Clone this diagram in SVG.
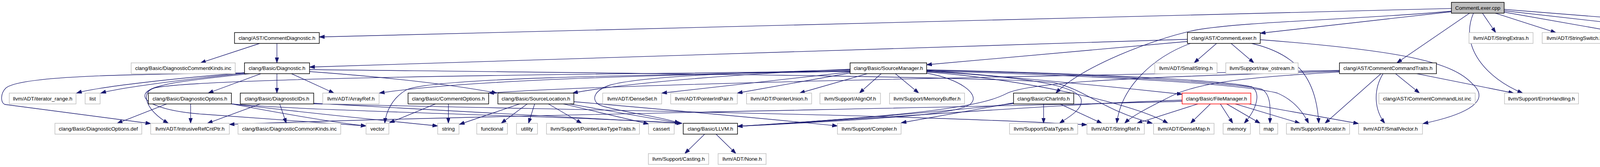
<svg xmlns="http://www.w3.org/2000/svg" width="4967" height="427" viewBox="0 0 4967 427">
<defs>
<style>
.e{fill:none;stroke:#191970;stroke-width:1.33;marker-end:url(#ah)}
.g{fill:#fff;stroke:#bfbfbf;stroke-width:1.5}
.k{fill:#fff;stroke:#000;stroke-width:1.5}
.r{fill:#fff;stroke:#ff0000;stroke-width:1.5}
.root{fill:#bfbfbf;stroke:#000;stroke-width:1.5}
text{font-family:"Liberation Sans",Arial,Helvetica,sans-serif;font-size:13.33px;text-anchor:middle;fill:#000}
</style>
<marker id="ah" markerUnits="userSpaceOnUse" markerWidth="14" markerHeight="10" refX="13.3" refY="4.65" orient="auto" viewBox="0 0 14 10">
<path d="M0,0 L13.3,4.65 L0,9.3 Z" fill="#191970" stroke="#191970" stroke-width="1"/>
</marker>
</defs>
<rect x="0" y="0" width="4967" height="427" fill="#fff"/>
<g id="edges">
<path class="e" d="M3715.6,21.7 L817.4,94.5"/>
<path class="e" d="M3715.6,28.5 C3480,50 3180,55 3060,77 C2950,100 2770,170 2703,238"/>
<path class="e" d="M3715.6,30 L3226.3,85"/>
<path class="e" d="M3762,33.7 L3576,160.7"/>
<path class="e" d="M3772,33.7 C3735,120 3805,200 3898,238"/>
<path class="e" d="M3795,33.7 L3829,83.3"/>
<path class="e" d="M3828,33.7 L3983,83.3"/>
<path class="e" d="M3850.6,31 L4148,83.3"/>
<path class="e" d="M3850.6,27.5 L4345,83.3"/>
<path class="e" d="M3850.6,24 L4601,83.3"/>
<path class="e" d="M708.9,111 L708.9,160.7"/>
<path class="e" d="M665,111 L513.5,160.7"/>
<path class="e" d="M3039.7,100.5 L792.4,171.5"/>
<path class="e" d="M3039.7,106 L2372.3,165.5"/>
<path class="e" d="M3114.5,111 L3057,160.7"/>
<path class="e" d="M3151.5,111 L3210,160.7"/>
<path class="e" d="M3047.6,111 C2955,145 2870,220 2859,315.3"/>
<path class="e" d="M3204,111 C3320,138 3370,200 3376,315.3"/>
<path class="e" d="M3226.3,101.5 C3600,130 3720,160 3770,215 C3825,265 3730,298 3643,316"/>
<path class="e" d="M3572.4,188.3 L3634,238"/>
<path class="e" d="M3626.5,188.3 L3875,238"/>
<path class="e" d="M3540.6,188.3 C3515,230 3518,280 3545,315.3"/>
<path class="e" d="M3535.5,188.3 L3392,315.3"/>
<path class="e" d="M3429,184 C3250,195 3080,205 3000,245 C2940,275 2900,295 2879,315.3"/>
<path class="e" d="M3429,182 C3000,196 2640,205 2575,240 C2520,268 2400,292 1888,323"/>
<path class="e" d="M3429,180 C2800,192 1600,212 1251,238"/>
<path class="e" d="M2372.3,180 C2600,198 2850,222 3026.3,241"/>
<path class="e" d="M2176.3,177 C1900,188 1600,212 1466,238"/>
<path class="e" d="M2176.3,181 C1700,192 1200,203 971,238"/>
<path class="e" d="M2176.3,184 L1694,238"/>
<path class="e" d="M2176.3,186.5 L1887.5,238"/>
<path class="e" d="M2220.5,188.3 L2047,238"/>
<path class="e" d="M2256,188.3 L2200,238"/>
<path class="e" d="M2292,188.3 L2352,238"/>
<path class="e" d="M2372.3,187 C2460,203 2505,240 2488,262 C2470,290 2300,303 1888,323"/>
<path class="e" d="M2176.3,178.5 C1900,185 1640,195 1560,218 C1510,235 1515,265 1545,272 C1610,290 1700,300 1740,315.3"/>
<path class="e" d="M2176.3,182.5 C1600,192 1100,200 1040,230 C1005,250 988,285 985,315.3"/>
<path class="e" d="M2176.3,182 C1400,190 500,200 395,225 C360,235 370,280 431,315.3"/>
<path class="e" d="M2372.3,184 C2600,200 2900,262 2990,315.3"/>
<path class="e" d="M2372.3,179 C2800,190 3150,210 3230,228 C3255,242 3252,282 3251,315.3"/>
<path class="e" d="M2372.3,178.5 C2800,188 3130,205 3205,222 C3230,240 3215,282 3185,315.3"/>
<path class="e" d="M2372.3,181 C2850,195 3180,215 3270,238 C3310,255 3335,285 3350,315.3"/>
<path class="e" d="M2372.3,182.5 C2600,195 2760,215 2768,255 C2772,280 2735,300 2712,315.3"/>
<path class="e" d="M1330.5,265.7 L1176,318"/>
<path class="e" d="M1349.6,265.7 L1283,315.3"/>
<path class="e" d="M1368.7,265.7 L1353,315.3"/>
<path class="e" d="M1404,265.7 L1489,315.3"/>
<path class="e" d="M1442,265.7 L1660.5,317"/>
<path class="e" d="M1457,265.7 L1742,315.3"/>
<path class="e" d="M1469.2,260 C1700,280 1950,302 2143.8,322"/>
<path class="e" d="M1804,343 L1753,392.7"/>
<path class="e" d="M1833,343 L1884,392.7"/>
<path class="e" d="M1115,265.7 L997,314"/>
<path class="e" d="M1147.8,265.7 L1147.8,315.3"/>
<path class="e" d="M2671.6,265.7 L2671.6,315.3"/>
<path class="e" d="M2594.6,263 L2307,314"/>
<path class="e" d="M2594.6,265 C2400,288 2100,310 1888,323"/>
<path class="e" d="M2713,265.7 L2821,315.3"/>
<path class="e" d="M3066.7,265.7 L2910.5,315.3"/>
<path class="e" d="M3098.6,265.7 L3047.6,315.3"/>
<path class="e" d="M3124,265.7 L3156,315.3"/>
<path class="e" d="M3140,265.7 L3226,315.3"/>
<path class="e" d="M3162,265.7 L3328,315.3"/>
<path class="e" d="M3197,265.7 L3478,316"/>
<path class="e" d="M3026.3,259 C2500,275 1200,295 587.1,318"/>
<path class="e" d="M3026.3,256 C2700,266 2300,300 1888,323"/>
<path class="e" d="M427,265.7 L300,315.3"/>
<path class="e" d="M488,265.7 L488,315.3"/>
<path class="e" d="M592.4,265.7 C720,290 850,312 937.1,322"/>
<path class="e" d="M592.4,265.7 C800,290 1000,310 1120.5,322"/>
<path class="e" d="M592.4,265.7 C800,285 1500,298 1746,315.3"/>
<path class="e" d="M666.5,265.7 L531,315.3"/>
<path class="e" d="M716,265.7 L733,315.3"/>
<path class="e" d="M803.1,264 C1100,282 1500,300 1746,315.3"/>
<path class="e" d="M803.1,265.7 C1500,282 2300,292 2782.6,319"/>
<path class="e" d="M708.9,188.3 L708.9,238"/>
<path class="e" d="M668,188.3 L533,238"/>
<path class="e" d="M746,188.3 L855,238"/>
<path class="e" d="M792.4,183 C1000,198 1150,215 1272,238"/>
<path class="e" d="M792.4,178 C1500,186 2600,196 2700,212 C2780,230 2820,280 2950,315.3"/>
<path class="e" d="M625.9,186 C450,200 250,222 196,238"/>
<path class="e" d="M625.9,187.5 C450,205 300,226 258,238"/>
<path class="e" d="M625.9,186.5 C300,190 50,195 15,225 C0,240 2,262 12,267 L386,316"/>
<path class="e" d="M640,188.3 C480,205 385,215 372,240 C362,262 420,285 520,292 C700,305 850,315 937.1,322"/>
</g>
<g id="node-cpp"><rect class="root" x="3715.6" y="6" width="135" height="27.7"/><text x="3783.1" y="24.55">CommentLexer.cpp</text></g>
<g id="node-cdiag"><rect class="k" x="600.4" y="83.3" width="217" height="27.7"/><text x="708.9" y="101.85">clang/AST/CommentDiagnostic.h</text></g>
<g id="node-clex"><rect class="k" x="3039.7" y="83.3" width="186.6" height="27.7"/><text x="3133" y="101.85">clang/AST/CommentLexer.h</text></g>
<g id="node-sext"><rect class="g" x="3760.6" y="83.3" width="164" height="27.7"/><text x="3842.6" y="101.85">llvm/ADT/StringExtras.h</text></g>
<g id="node-ssw"><rect class="g" x="3948" y="83.3" width="166" height="27.7"/><text x="4031" y="101.85">llvm/ADT/StringSwitch.h</text></g>
<g id="node-cutf"><rect class="g" x="4137.4" y="83.3" width="182.8" height="27.7"/><text x="4228.8" y="101.85">llvm/Support/ConvertUTF.h</text></g>
<g id="node-htags"><rect class="g" x="4343.6" y="83.3" width="230.6" height="27.7"/><text x="4458.9" y="101.85">clang/AST/CommentHTMLTags.inc</text></g>
<g id="node-hnamed"><rect class="g" x="4596.7" y="83.3" width="367.5" height="27.7"/><text x="4780.45" y="101.85">clang/AST/CommentHTMLNamedCharacterReferences.inc</text></g>
<g id="node-dck"><rect class="g" x="335.7" y="160.7" width="266.5" height="27.7"/><text x="468.95" y="179.25">clang/Basic/DiagnosticCommentKinds.inc</text></g>
<g id="node-diag"><rect class="k" x="625.9" y="160.7" width="166.5" height="27.7"/><text x="709.15" y="179.25">clang/Basic/Diagnostic.h</text></g>
<g id="node-sm"><rect class="k" x="2176.3" y="160.7" width="196" height="27.7"/><text x="2274.3" y="179.25">clang/Basic/SourceManager.h</text></g>
<g id="node-sstr"><rect class="g" x="2956.3" y="160.7" width="159.3" height="27.7"/><text x="3035.95" y="179.25">llvm/ADT/SmallString.h</text></g>
<g id="node-raw"><rect class="g" x="3138" y="160.7" width="185.2" height="27.7"/><text x="3230.6" y="179.25">llvm/Support/raw_ostream.h</text></g>
<g id="node-cct"><rect class="k" x="3429" y="160.7" width="248.2" height="27.7"/><text x="3553.1" y="179.25">clang/AST/CommentCommandTraits.h</text></g>
<g id="node-itr"><rect class="g" x="23.7" y="238" width="170.9" height="27.7"/><text x="109.15" y="256.55">llvm/ADT/iterator_range.h</text></g>
<g id="node-list"><rect class="g" x="217.9" y="238" width="38.4" height="27.7"/><text x="237.1" y="256.55">list</text></g>
<g id="node-dopt"><rect class="k" x="379.9" y="238" width="212.5" height="27.7"/><text x="486.15" y="256.55">clang/Basic/DiagnosticOptions.h</text></g>
<g id="node-dids"><rect class="k" x="615.2" y="238" width="187.9" height="27.7"/><text x="709.15" y="256.55">clang/Basic/DiagnosticIDs.h</text></g>
<g id="node-aref"><rect class="g" x="826.3" y="238" width="144.2" height="27.7"/><text x="898.4" y="256.55">llvm/ADT/ArrayRef.h</text></g>
<g id="node-copt"><rect class="k" x="1044.6" y="238" width="206.3" height="27.7"/><text x="1147.75" y="256.55">clang/Basic/CommentOptions.h</text></g>
<g id="node-sloc"><rect class="k" x="1274.6" y="238" width="194.6" height="27.7"/><text x="1371.9" y="256.55">clang/Basic/SourceLocation.h</text></g>
<g id="node-dset"><rect class="g" x="1542.9" y="238" width="150.9" height="27.7"/><text x="1618.35" y="256.55">llvm/ADT/DenseSet.h</text></g>
<g id="node-pip"><rect class="g" x="1717" y="238" width="170.5" height="27.7"/><text x="1802.25" y="256.55">llvm/ADT/PointerIntPair.h</text></g>
<g id="node-pun"><rect class="g" x="1911.2" y="238" width="166.5" height="27.7"/><text x="1994.45" y="256.55">llvm/ADT/PointerUnion.h</text></g>
<g id="node-align"><rect class="g" x="2099" y="238" width="155" height="27.7"/><text x="2176.5" y="256.55">llvm/Support/AlignOf.h</text></g>
<g id="node-mbuf"><rect class="g" x="2277.2" y="238" width="192" height="27.7"/><text x="2373.2" y="256.55">llvm/Support/MemoryBuffer.h</text></g>
<g id="node-cinfo"><rect class="k" x="2594.6" y="238" width="154.1" height="27.7"/><text x="2671.65" y="256.55">clang/Basic/CharInfo.h</text></g>
<g id="node-fm"><rect class="r" x="3026.3" y="238" width="175.9" height="27.7"/><text x="3114.25" y="256.55">clang/Basic/FileManager.h</text></g>
<g id="node-ccl"><rect class="g" x="3530" y="238" width="246.5" height="27.7"/><text x="3653.25" y="256.55">clang/AST/CommentCommandList.inc</text></g>
<g id="node-eh"><rect class="g" x="3851.5" y="238" width="189.4" height="27.7"/><text x="3946.2" y="256.55">llvm/Support/ErrorHandling.h</text></g>
<g id="node-ddef"><rect class="g" x="140.6" y="315.3" width="222.3" height="27.7"/><text x="251.75" y="333.85">clang/Basic/DiagnosticOptions.def</text></g>
<g id="node-ircp"><rect class="g" x="385.7" y="315.3" width="201.4" height="27.7"/><text x="486.4" y="333.85">llvm/ADT/IntrusiveRefCntPtr.h</text></g>
<g id="node-dcom"><rect class="g" x="609.4" y="315.3" width="262.9" height="27.7"/><text x="740.85" y="333.85">clang/Basic/DiagnosticCommonKinds.inc</text></g>
<g id="node-vec"><rect class="g" x="937.1" y="315.3" width="58.4" height="27.7"/><text x="966.3" y="333.85">vector</text></g>
<g id="node-str"><rect class="g" x="1120.5" y="315.3" width="54.5" height="27.7"/><text x="1147.75" y="333.85">string</text></g>
<g id="node-func"><rect class="g" x="1220.5" y="315.3" width="78.6" height="27.7"/><text x="1259.8" y="333.85">functional</text></g>
<g id="node-util"><rect class="g" x="1322.3" y="315.3" width="53.6" height="27.7"/><text x="1349.1" y="333.85">utility</text></g>
<g id="node-pltt"><rect class="g" x="1399" y="315.3" width="238" height="27.7"/><text x="1518" y="333.85">llvm/Support/PointerLikeTypeTraits.h</text></g>
<g id="node-cass"><rect class="g" x="1660.3" y="315.3" width="65.6" height="27.7"/><text x="1693.1" y="333.85">cassert</text></g>
<g id="node-llvm"><rect class="k" x="1749.1" y="315.3" width="138.9" height="27.7"/><text x="1818.55" y="333.85">clang/Basic/LLVM.h</text></g>
<g id="node-comp"><rect class="g" x="2143.8" y="315.3" width="162.9" height="27.7"/><text x="2225.25" y="333.85">llvm/Support/Compiler.h</text></g>
<g id="node-dtyp"><rect class="g" x="2584.4" y="315.3" width="174.5" height="27.7"/><text x="2671.65" y="333.85">llvm/Support/DataTypes.h</text></g>
<g id="node-sref"><rect class="g" x="2782.6" y="315.3" width="146.9" height="27.7"/><text x="2856.05" y="333.85">llvm/ADT/StringRef.h</text></g>
<g id="node-dmap"><rect class="g" x="2953.1" y="315.3" width="154.9" height="27.7"/><text x="3030.55" y="333.85">llvm/ADT/DenseMap.h</text></g>
<g id="node-mem"><rect class="g" x="3131.2" y="315.3" width="69.7" height="27.7"/><text x="3166.05" y="333.85">memory</text></g>
<g id="node-map"><rect class="g" x="3224.6" y="315.3" width="46.4" height="27.7"/><text x="3247.8" y="333.85">map</text></g>
<g id="node-alloc"><rect class="g" x="3293.3" y="315.3" width="161.6" height="27.7"/><text x="3374.1" y="333.85">llvm/Support/Allocator.h</text></g>
<g id="node-svec"><rect class="g" x="3478" y="315.3" width="163.5" height="27.7"/><text x="3559.75" y="333.85">llvm/ADT/SmallVector.h</text></g>
<g id="node-cast"><rect class="g" x="1659.8" y="392.7" width="154.5" height="27.7"/><text x="1737.05" y="411.25">llvm/Support/Casting.h</text></g>
<g id="node-none"><rect class="g" x="1838.4" y="392.7" width="122.8" height="27.7"/><text x="1899.8" y="411.25">llvm/ADT/None.h</text></g>
</svg>
